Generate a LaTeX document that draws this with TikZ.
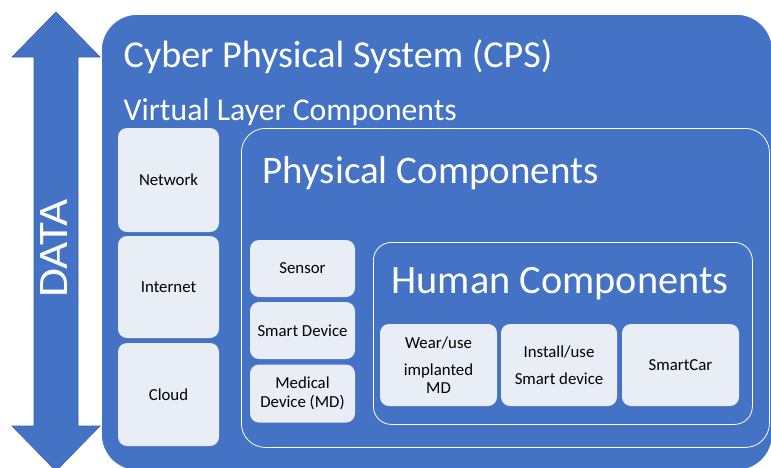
\documentclass[tikz,border=0pt]{standalone}
\usepackage{fontspec}
\setmainfont{Carlito}
\definecolor{cpsblue}{HTML}{4472C4}
\definecolor{boxfill}{HTML}{E9EDF6}
\definecolor{arrowedge}{HTML}{3A63AD}
\begin{document}
\begin{tikzpicture}[x=1pt,y=-1pt,
  panel/.style={rectangle, fill=cpsblue, draw=white, line width=0.8pt, inner sep=0pt, anchor=north west},
  itembox/.style={rectangle, fill=boxfill, rounded corners=9pt, inner sep=2pt, align=center,
    font=\fontsize{16.8}{17.5}\selectfont, text=black},
  heading/.style={anchor=base west, text=white, inner sep=0pt}]
\useasboundingbox (0,0) rectangle (771,467);
\clip (0,0) rectangle (771,467);
\fill[white] (0,0) rectangle (771,467);

% DATA double arrow
\path[fill=cpsblue, draw=arrowedge, line width=0.6pt]
  (56,12) -- (100,57) -- (78,57) -- (78,426) -- (100,426) -- (56,471)
  -- (12,426) -- (34,426) -- (34,57) -- (12,57) -- cycle;
\node[rotate=90, xscale=1.12, text=white, inner sep=0pt, font=\fontsize{42}{48}\selectfont] (data) at (54,248.5) {DATA};

% CPS panel
\node[panel, rounded corners=36pt, minimum width=671pt, minimum height=456pt] (cps) at (101,14) {};
\node[heading, font=\fontsize{38.1}{42}\selectfont] (cpstitle) at (123.5,67) {Cyber Physical System (CPS)};
\node[heading, font=\fontsize{31.7}{36}\selectfont] (virtual) at (123.5,120) {Virtual Layer Components};

% virtual items
\node[itembox, minimum width=101pt, minimum height=104pt] (network) at (168.5,180) {Network};
\node[itembox, minimum width=101pt, minimum height=102pt] (internet) at (168.5,287) {Internet};
\node[itembox, minimum width=101pt, minimum height=103pt] (cloud) at (168.5,394.5) {Cloud};

% physical panel
\node[panel, rounded corners=24pt, minimum width=528pt, minimum height=319pt] (phys) at (241,128) {};
\node[heading, font=\fontsize{39}{44}\selectfont] (phystitle) at (262.5,183) {Physical Components};

\node[itembox, minimum width=105pt, minimum height=57pt] (sensor) at (302.5,268.5) {Sensor};
\node[itembox, minimum width=105pt, minimum height=57pt] (smartdev) at (302.5,330.5) {Smart Device};
\node[itembox, minimum width=105pt, minimum height=58pt] (medical) at (302.5,393.5) {Medical\\[2pt]Device (MD)};

% human panel
\node[panel, rounded corners=18pt, minimum width=379pt, minimum height=182pt] (human) at (373,242) {};
\node[heading, font=\fontsize{40.3}{45}\selectfont] (humantitle) at (391.5,293) {Human Components};

\node[itembox, minimum width=117pt, minimum height=82pt] (wear) at (438.5,365) {Wear/use\\[9.5pt]implanted\\MD};
\node[itembox, minimum width=116pt, minimum height=82pt] (install) at (559,365) {Install/use\\[9pt]Smart device};
\node[itembox, minimum width=117pt, minimum height=82pt] (car) at (680.5,365) {SmartCar};
\end{tikzpicture}
\end{document}
